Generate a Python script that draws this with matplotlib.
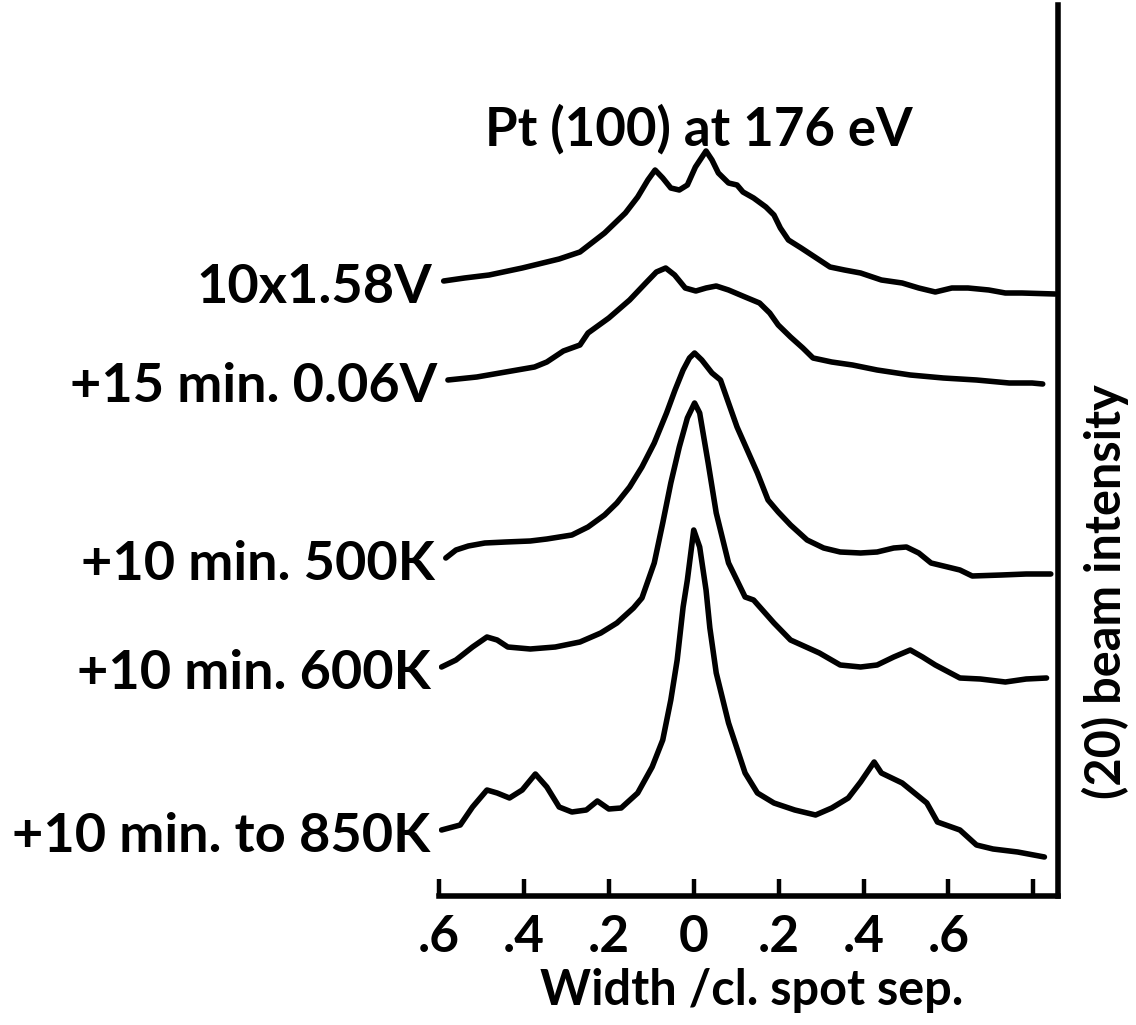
import matplotlib.pyplot as plt

plt.rcParams["font.family"] = ["Lato", "DejaVu Sans"]

# ---- data: width (fraction of spot separation) vs. (20) beam intensity (arb.) ----
labels = ["10x1.58V", "+15 min. 0.06V", "+10 min. 500K", "+10 min. 600K", "+10 min. to 850K"]

width_158v = [-0.589, -0.540, -0.482, -0.404, -0.346, -0.317, -0.268, -0.210, -0.161, -0.132,
              -0.108, -0.091, -0.073, -0.054, -0.034, -0.015, 0.004, 0.029, 0.043, 0.058,
              0.082, 0.102, 0.116, 0.141, 0.170, 0.189, 0.204, 0.223, 0.253, 0.296,
              0.321, 0.355, 0.393, 0.442, 0.491, 0.530, 0.569, 0.608, 0.646, 0.695,
              0.734, 0.773, 0.851]
int_158v = [615, 618, 621, 628, 634, 637, 644, 663, 683, 699,
            716, 726, 718, 708, 706, 711, 729, 745, 736, 723,
            713, 711, 704, 698, 689, 681, 668, 656, 648, 636,
            629, 626, 623, 616, 613, 608, 604, 608, 608, 606,
            603, 603, 602]

width_006v = [-0.579, -0.511, -0.443, -0.375, -0.346, -0.307, -0.268, -0.249, -0.200, -0.151,
              -0.113, -0.088, -0.066, -0.045, -0.020, 0.005, 0.029, 0.053, 0.082, 0.121,
              0.155, 0.179, 0.199, 0.228, 0.257, 0.281, 0.325, 0.374, 0.432, 0.510,
              0.588, 0.666, 0.743, 0.797, 0.822]
int_006v = [516, 519, 524, 529, 534, 545, 551, 563, 578, 596,
            613, 624, 628, 621, 608, 605, 608, 610, 606, 599,
            593, 583, 571, 559, 548, 538, 534, 531, 526, 521,
            518, 516, 513, 513, 512]

width_500k = [-0.584, -0.560, -0.531, -0.492, -0.443, -0.385, -0.346, -0.287, -0.249, -0.210,
              -0.181, -0.151, -0.122, -0.093, -0.064, -0.044, -0.025, -0.010, 0.002, 0.019,
              0.043, 0.063, 0.082, 0.102, 0.126, 0.150, 0.175, 0.199, 0.228, 0.267,
              0.306, 0.345, 0.393, 0.432, 0.471, 0.501, 0.530, 0.559, 0.598, 0.627,
              0.656, 0.725, 0.783, 0.841]
int_500k = [338, 346, 350, 353, 354, 355, 357, 361, 369, 381,
            393, 409, 429, 453, 483, 506, 526, 538, 543, 536,
            523, 516, 493, 469, 446, 423, 396, 384, 371, 356,
            348, 344, 343, 344, 348, 349, 343, 333, 329, 326,
            320, 321, 322, 322]

width_600k = [-0.594, -0.560, -0.521, -0.487, -0.463, -0.438, -0.385, -0.326, -0.268, -0.219,
              -0.181, -0.142, -0.122, -0.093, -0.073, -0.054, -0.034, -0.015, 0.002, 0.014,
              0.034, 0.053, 0.082, 0.121, 0.141, 0.189, 0.228, 0.296, 0.345, 0.393,
              0.432, 0.471, 0.510, 0.539, 0.569, 0.627, 0.675, 0.734, 0.783, 0.831]
int_600k = [229, 236, 249, 259, 256, 249, 247, 249, 254, 263,
            273, 288, 298, 333, 373, 413, 449, 478, 493, 483,
            433, 383, 333, 299, 296, 273, 256, 243, 231, 229,
            231, 239, 246, 239, 231, 218, 217, 214, 217, 218]

width_850k = [-0.594, -0.550, -0.521, -0.487, -0.463, -0.434, -0.404, -0.373, -0.346, -0.317,
              -0.287, -0.253, -0.227, -0.200, -0.171, -0.132, -0.098, -0.073, -0.054, -0.039,
              -0.025, -0.015, 0.000, 0.014, 0.029, 0.038, 0.053, 0.082, 0.121, 0.150,
              0.189, 0.238, 0.287, 0.325, 0.364, 0.393, 0.425, 0.442, 0.491, 0.520,
              0.549, 0.574, 0.627, 0.666, 0.705, 0.763, 0.826]
int_850k = [66, 71, 89, 106, 103, 98, 106, 122, 109, 89,
            84, 86, 95, 87, 88, 103, 129, 156, 196, 236,
            289, 316, 366, 349, 306, 268, 223, 173, 123, 103,
            93, 86, 81, 88, 98, 114, 134, 123, 113, 103,
            93, 74, 66, 51, 47, 44, 39]

widths = [width_158v, width_006v, width_500k, width_600k, width_850k]
intensities = [int_158v, int_006v, int_500k, int_600k, int_850k]

tick_pos = [-0.6, -0.4, -0.2, 0.0, 0.2, 0.4, 0.6, 0.8]
tick_labels = [".6", ".4", ".2", "0", ".2", ".4", ".6", ""]

LW = 4.0

fig = plt.figure(figsize=(11.36, 10.25), dpi=100)
ax = fig.add_axes([439 / 1136, 129 / 1025, 619 / 1136, 891 / 1025])

for w, inten, lab in zip(widths, intensities, labels):
    ax.plot(w, inten, color="black", lw=LW, solid_capstyle="round", solid_joinstyle="round")
    ax.annotate(lab, xy=(w[0], inten[0]), xytext=(-8, -5), textcoords="offset points",
                ha="right", va="center", fontsize=39, fontweight="bold")

ax.set_xlim(-0.6, 0.858)
ax.set_ylim(0, 891)
for side in ["top", "left"]:
    ax.spines[side].set_visible(False)
for side in ["bottom", "right"]:
    ax.spines[side].set_linewidth(LW)
ax.set_xticks(tick_pos)
ax.set_xticklabels(tick_labels, fontsize=37, fontweight="bold")
ax.tick_params(axis="x", direction="in", length=12, width=3.2, pad=13)
ax.set_yticks([])

fig.text(699 / 1136, 1 - 145 / 1025, "Pt (100) at 176 eV", ha="center", va="baseline",
         fontsize=38, fontweight="bold")
fig.text(752 / 1136, 1 - 1005 / 1025, "Width /cl. spot sep.", ha="center", va="baseline",
         fontsize=35, fontweight="bold")
fig.text(1105 / 1136, 1 - 592 / 1025, "(20) beam intensity", ha="center", va="center",
         rotation=90, fontsize=35, fontweight="bold")

fig.savefig("out.png", dpi=100)
